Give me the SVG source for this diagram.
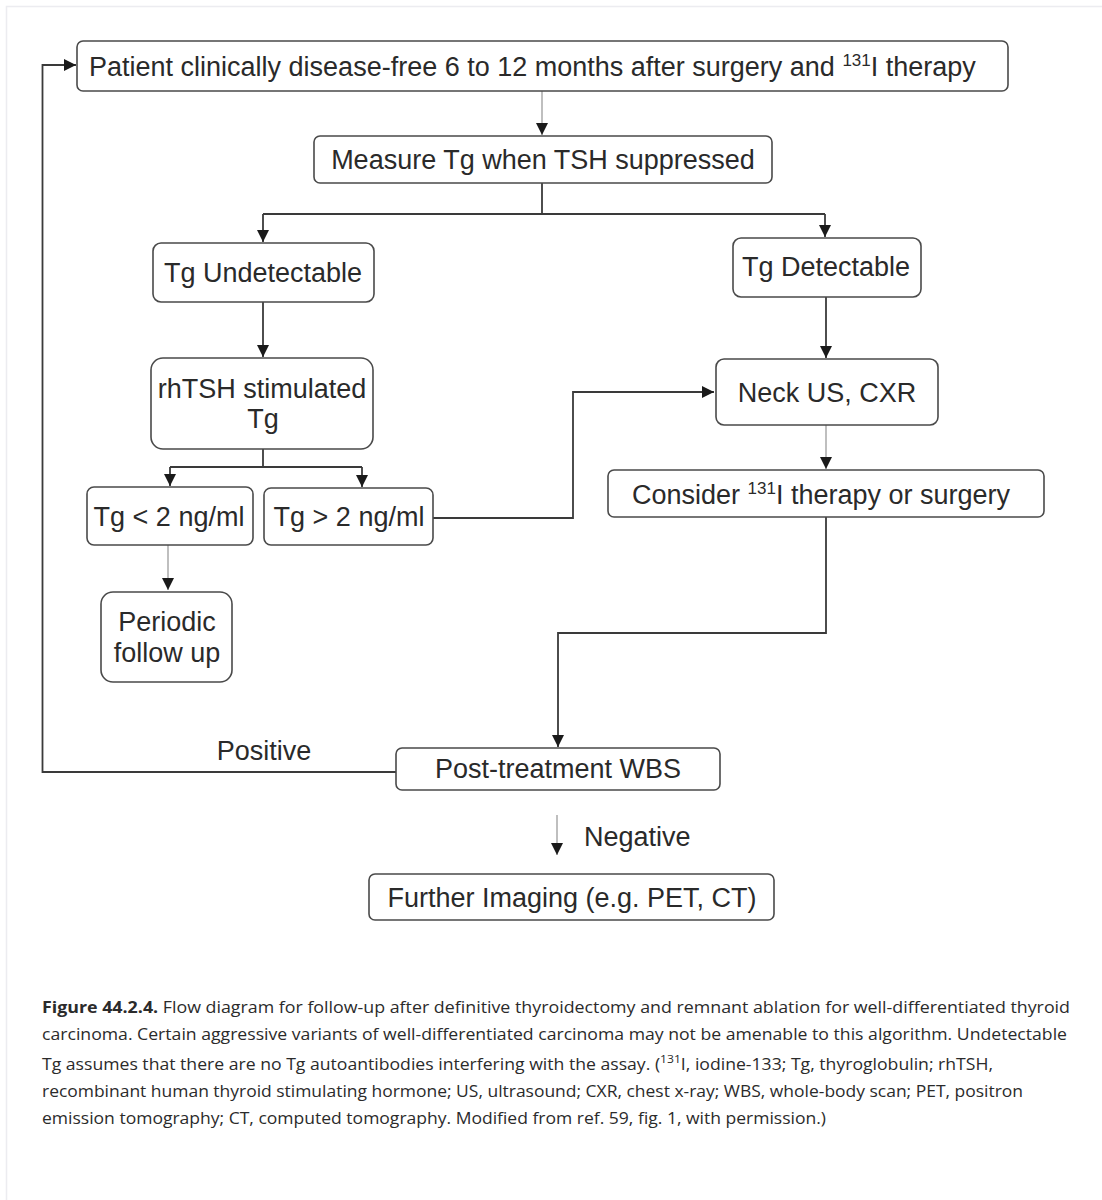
<svg xmlns="http://www.w3.org/2000/svg" width="1102" height="1200" viewBox="0 0 1102 1200">
<style>
.box{fill:#fff;stroke:#4a4a4a;stroke-width:1.6}
.t{font-family:"Liberation Sans",Arial,sans-serif;font-size:27px;fill:#2a2a2a}
.m{text-anchor:middle}
.ln{fill:none;stroke:#3a3a3a;stroke-width:1.8}
.thin{fill:none;stroke:#8a8a8a;stroke-width:1.1}
.cap{font-family:"Open Sans","Noto Sans",sans-serif;font-size:16px;fill:#2b2b2b}
</style>
<defs>
<marker id="ah" viewBox="0 0 12 12" refX="12" refY="6" markerWidth="12" markerHeight="12" markerUnits="userSpaceOnUse" orient="auto">
<path d="M0,0 L12,6 L0,12 Z" fill="#1a1a1a"/>
</marker>
</defs>
<rect x="0" y="0" width="1102" height="1200" fill="#fff"/>
<rect x="6.5" y="6.5" width="1110" height="1210" fill="none" stroke="#ececf0" stroke-width="1.5"/>

<g id="connectors">
<path class="ln" d="M396,772 H42.5 V65 H76" marker-end="url(#ah)"/>
<path class="thin" d="M542,91 V135" marker-end="url(#ah)"/>
<path class="ln" d="M542,183 V214"/>
<path class="ln" d="M263,214 H825"/>
<path class="ln" d="M263,214 V242" marker-end="url(#ah)"/>
<path class="ln" d="M825,214 V237" marker-end="url(#ah)"/>
<path class="ln" d="M263,302 V357" marker-end="url(#ah)"/>
<path class="ln" d="M263,449 V467"/>
<path class="ln" d="M170,467 H362"/>
<path class="ln" d="M170,467 V486" marker-end="url(#ah)"/>
<path class="ln" d="M362,467 V487" marker-end="url(#ah)"/>
<path class="thin" d="M168,545 V590" marker-end="url(#ah)"/>
<path class="ln" d="M433,518 H573 V392 H714" marker-end="url(#ah)"/>
<path class="ln" d="M826,297 V358" marker-end="url(#ah)"/>
<path class="thin" d="M826,425 V469" marker-end="url(#ah)"/>
<path class="ln" d="M826,517 V633 H558 V747" marker-end="url(#ah)"/>
<path class="thin" d="M557,815 V855" marker-end="url(#ah)"/>
<text class="t m" x="264" y="760">Positive</text>
<text class="t" x="584" y="846">Negative</text>
</g>

<g id="n-patient">
<rect class="box" x="77" y="41" width="931" height="50" rx="6"/>
<text class="t" x="89" y="76">Patient clinically disease-free 6 to 12 months after surgery and <tspan font-size="17" dy="-10">131</tspan><tspan dy="10">I therapy</tspan></text>
</g>
<g id="n-measure">
<rect class="box" x="314" y="136" width="458" height="47" rx="6"/>
<text class="t m" x="543" y="169">Measure Tg when TSH suppressed</text>
</g>
<g id="n-undetectable">
<rect class="box" x="153" y="243" width="221" height="59" rx="8"/>
<text class="t m" x="263" y="282">Tg Undetectable</text>
</g>
<g id="n-rhtsh">
<rect class="box" x="151" y="358" width="222" height="91" rx="12"/>
<text class="t m" x="262" y="398">rhTSH stimulated</text>
<text class="t m" x="263" y="428">Tg</text>
</g>
<g id="n-lt2">
<rect class="box" x="87" y="487" width="166" height="58" rx="7"/>
<text class="t m" x="169" y="526">Tg &lt; 2 ng/ml</text>
</g>
<g id="n-gt2">
<rect class="box" x="264" y="488" width="169" height="57" rx="7"/>
<text class="t m" x="349" y="526">Tg &gt; 2 ng/ml</text>
</g>
<g id="n-periodic">
<rect class="box" x="101" y="592" width="131" height="90" rx="12"/>
<text class="t m" x="167" y="631">Periodic</text>
<text class="t m" x="167" y="662">follow up</text>
</g>
<g id="n-detectable">
<rect class="box" x="733" y="238" width="188" height="59" rx="8"/>
<text class="t m" x="826" y="276">Tg Detectable</text>
</g>
<g id="n-neck">
<rect class="box" x="716" y="359" width="222" height="66" rx="8"/>
<text class="t m" x="827" y="402">Neck US, CXR</text>
</g>
<g id="n-consider">
<rect class="box" x="608" y="470" width="436" height="47" rx="6"/>
<text class="t" x="632" y="504">Consider <tspan font-size="17" dy="-10">131</tspan><tspan dy="10">I therapy or surgery</tspan></text>
</g>
<g id="n-post">
<rect class="box" x="396" y="748" width="324" height="42" rx="6"/>
<text class="t m" x="558" y="778">Post-treatment WBS</text>
</g>
<g id="n-further">
<rect class="box" x="369" y="874" width="405" height="46" rx="6"/>
<text class="t m" x="572" y="907">Further Imaging (e.g. PET, CT)</text>
</g>

<g id="caption">
<text class="cap" x="42" y="1013" textLength="1028" lengthAdjust="spacingAndGlyphs"><tspan font-weight="bold">Figure 44.2.4.</tspan> Flow diagram for follow-up after definitive thyroidectomy and remnant ablation for well-differentiated thyroid</text>
<text class="cap" x="42" y="1040" textLength="1025" lengthAdjust="spacingAndGlyphs">carcinoma. Certain aggressive variants of well-differentiated carcinoma may not be amenable to this algorithm. Undetectable</text>
<text class="cap" x="42" y="1070" textLength="951" lengthAdjust="spacingAndGlyphs">Tg assumes that there are no Tg autoantibodies interfering with the assay. (<tspan font-size="11" dy="-7">131</tspan><tspan dy="7">I, iodine-133; Tg, thyroglobulin; rhTSH,</tspan></text>
<text class="cap" x="42" y="1097" textLength="981" lengthAdjust="spacingAndGlyphs">recombinant human thyroid stimulating hormone; US, ultrasound; CXR, chest x-ray; WBS, whole-body scan; PET, positron</text>
<text class="cap" x="42" y="1124" textLength="784" lengthAdjust="spacingAndGlyphs">emission tomography; CT, computed tomography. Modified from ref. 59, fig. 1, with permission.)</text>
</g>
</svg>
